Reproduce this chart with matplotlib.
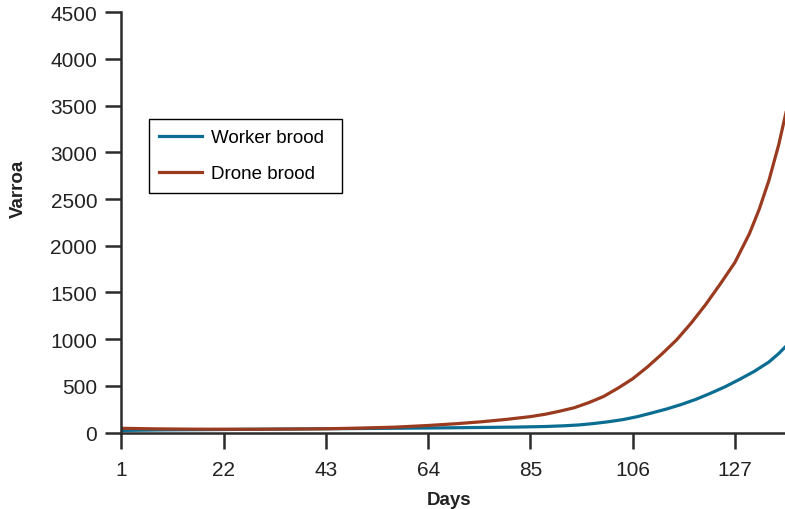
import numpy as np
import matplotlib.pyplot as plt

# days and varroa counts
days_drone = [1, 8, 15, 22, 29, 36, 43, 50, 57, 64, 70, 75, 80, 85, 88, 91, 94, 97,
              100, 103, 106, 109, 112, 115, 118, 121, 124, 127, 130, 132, 134, 136, 138]
drone = [45, 39, 36, 35, 35, 37, 40, 47, 57, 75, 95, 115, 140, 170, 195, 228, 265, 320,
         385, 475, 575, 700, 840, 990, 1170, 1370, 1590, 1820, 2130, 2390, 2700, 3080, 3540]

days_worker = [1, 10, 22, 32, 43, 54, 64, 75, 82, 88, 92, 95, 98, 101, 104, 107, 110,
               113, 116, 119, 122, 125, 128, 131, 134, 136, 138]
worker = [22, 28, 32, 36, 40, 44, 48, 54, 58, 64, 72, 81, 96, 115, 138, 170, 210,
          252, 300, 355, 420, 490, 570, 655, 755, 845, 950]

xticks = [1, 22, 43, 64, 85, 106, 127]
yticks = [0, 500, 1000, 1500, 2000, 2500, 3000, 3500, 4000, 4500]

plt.rcParams['font.family'] = ['Liberation Sans', 'DejaVu Sans']
dark = '#2b2b2b'

fig = plt.figure(figsize=(7.85, 5.1), dpi=100)
ax = fig.add_axes([0.1547, 0.150, 0.8453, 0.824])

ax.plot(days_worker, worker, color='#0b6d92', lw=2.3, label='Worker brood')
ax.plot(days_drone, drone, color='#9a3a1f', lw=2.3, label='Drone brood')

ax.set_xlim(1, 137.3)
ax.set_ylim(0, 4500)
ax.set_xticks(xticks)
ax.set_yticks(yticks)

for s in ['top', 'right']:
    ax.spines[s].set_visible(False)
for s in ['left', 'bottom']:
    ax.spines[s].set_color(dark)
    ax.spines[s].set_linewidth(1.8)

ax.tick_params(axis='both', direction='out', length=11.5, width=1.8, color=dark,
               labelsize=15, labelcolor='#222222')
ax.tick_params(axis='y', pad=6)
ax.tick_params(axis='x', pad=8)

# legend box stretched to the reference width, text stays left aligned
leg = ax.legend(loc='upper left', bbox_to_anchor=(0.0416, 0.60, 0.2908, 0.146),
                mode='expand', borderaxespad=0,
                fontsize=13.5, fancybox=False, edgecolor='black', framealpha=1,
                handlelength=2.3, handletextpad=0.43, borderpad=0.55,
                labelspacing=1.0)
leg.get_frame().set_linewidth(1.0)

fig.text(0.023, 0.63, 'Varroa', rotation=90, ha='center', va='center',
         fontsize=13.5, fontweight='bold', color='#222222')
fig.text(0.572, 0.018, 'Days', ha='center', va='center',
         fontsize=13.5, fontweight='bold', color='#222222')

plt.savefig('out.png', dpi=100)
